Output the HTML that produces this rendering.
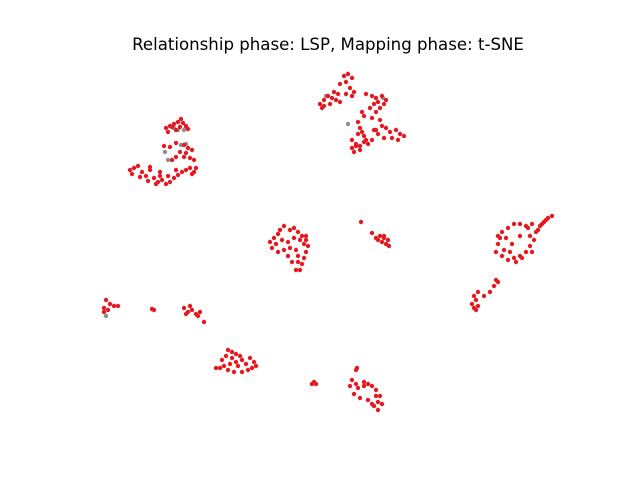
<!DOCTYPE html>
<html><head><meta charset="utf-8"><style>
body{margin:0;background:#fff}
svg{display:block}
</style></head><body>
<svg id="chart" width="640" height="480" xmlns="http://www.w3.org/2000/svg">
<rect width="640" height="480" fill="#fff"/>
<text x="328" y="50" text-anchor="middle" font-family="DejaVu Sans, Liberation Sans, sans-serif" font-size="16.6" fill="#000">Relationship phase: LSP, Mapping phase: t-SNE</text>
<g id="pts"></g>
</svg>
<script>
// t-SNE embedding coordinates (arbitrary units)
const redX = [166,170,174,178,181,183,186,188,176,168,172,180,
164,170,176,184,188,186,192,180,176,172,184,190,194,
130,134,138,142,146,150,154,158,162,166,170,174,178,182,186,190,194,196,132,140,148,156,160,168,176,192,150,160,
344,348,352,346,350,346,352,340,354,
320,324,328,332,330,324,336,338,334,322,340,
366,372,376,378,382,384,380,374,370,362,364,372,376,386,
358,360,362,358,364,352,356,
380,382,378,384,390,396,400,404,398,392,386,376,
352,356,360,364,368,372,360,354,366,374,
284,290,294,298,302,306,308,306,304,302,300,296,298,292,288,284,278,272,270,274,278,282,288,294,300,296,290,304,276,306,280,298,
361,372,376,380,384,388,386,378,382,384,389,
552,548,544,546,540,536,534,530,526,520,514,508,502,496,498,500,502,508,514,520,526,532,538,498,506,512,520,530,522,516,532,510,504,528,542,
498,494,490,484,478,474,476,472,474,478,476,496,
106,110,104,108,114,118,104,
152,154,
184,188,192,196,186,190,198,200,204,
228,232,236,240,226,222,220,224,230,236,242,246,250,254,256,248,242,234,228,216,238,252,232,
314,312,316,
357,356,352,356,350,354,358,364,368,372,376,380,378,372,368,374,382,378,364,360,376];
const redY = [128,126,124,122,119,123,126,129,130,132,127,127,
146,147,143,145,148,153,150,152,157,160,157,158,160,
170,168,166,172,176,170,178,182,180,184,182,178,175,172,170,168,172,168,174,177,181,184,176,176,170,174,167,172,
76,74,78,82,88,94,96,84,92,
104,100,96,98,104,106,100,94,92,108,102,
94,96,98,102,96,104,108,104,108,112,116,118,112,100,
122,128,132,134,136,140,146,
120,126,134,138,132,130,134,136,140,138,128,130,
148,144,146,142,144,140,150,152,140,130,
226,230,228,232,236,240,246,252,258,264,270,270,262,262,256,250,252,248,242,238,234,240,242,238,240,250,248,244,244,236,230,256,
222,233,238,236,238,240,244,240,242,236,246,
216,218,222,220,226,232,240,246,252,256,258,260,256,252,244,238,232,228,224,224,226,224,230,236,238,244,236,236,258,262,252,252,250,228,224,
282,286,292,296,292,296,300,304,308,306,310,280,
300,304,308,310,306,306,312,
309,310,
308,312,310,314,314,306,316,312,322,
350,352,354,356,356,360,368,366,364,362,360,364,358,362,366,370,372,372,370,368,366,368,358,
382,384,384,
368,370,380,384,386,394,388,382,384,386,390,396,402,404,400,406,404,410,386,398,396];
const grayX = [174,178,184,186,165,168,181,186,326,383,348,106];
const grayY = [128,130,130,128,152,160,145,144,96,98,124,316];

// axis functions (embedding units -> screen)
const xScale = v => 80 + (v - 80) * 1.0;
const yScale = v => 40 + (v - 40) * 1.0;

const g = document.getElementById('pts');
function dot(xv, yv, fill, name){
  const c = document.createElementNS('http://www.w3.org/2000/svg','circle');
  c.setAttribute('cx', xScale(xv));
  c.setAttribute('cy', yScale(yv));
  c.setAttribute('r', 2.2);
  c.setAttribute('fill', fill);
  
  
  g.appendChild(c);
}
for (let i = 0; i < grayX.length; i++) dot(grayX[i], grayY[i], '#8f8f8f', 'gray-point');
for (let i = 0; i < redX.length; i++) dot(redX[i], redY[i], '#e31a22', 'red-point');
</script>
</body></html>
